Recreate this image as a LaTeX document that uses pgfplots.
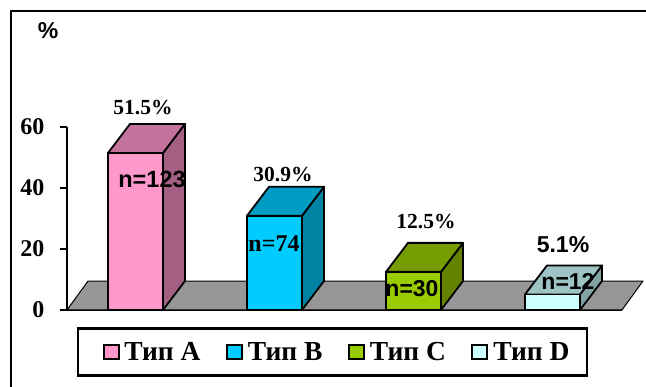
\documentclass[border=0pt]{standalone}
\usepackage{pgfplots}
\pgfplotsset{compat=1.18}
\usepackage{fontspec}
\setmainfont{Liberation Serif}
\newfontfamily\arialfont{Liberation Sans}
\definecolor{floorgray}{HTML}{969696}
\definecolor{fa}{HTML}{FF99CC}\definecolor{ta}{HTML}{C4749C}\definecolor{sa}{HTML}{A36082}
\definecolor{fb}{HTML}{00CCFF}\definecolor{tb}{HTML}{009CC4}\definecolor{sb}{HTML}{0082A3}
\definecolor{fc}{HTML}{99CC00}\definecolor{tc}{HTML}{759C00}\definecolor{sc}{HTML}{628200}
\definecolor{fd}{HTML}{CCFFFF}\definecolor{td}{HTML}{9CC4C4}\definecolor{sd}{HTML}{82A3A3}
\pgfplotsset{
  face/.style={draw=black,line width=1.8pt,forget plot,mark=none,line join=round},
  front/.style={ybar,bar width=55pt,bar shift=0pt,draw=black,line width=1.8pt,
    legend image code/.code={\draw[##1,line width=2pt] (0pt,-7pt) rectangle (15pt,7pt);\path (18pt,0pt);}},
  frontfirst/.style={front,
    legend image code/.code={\path (-9pt,0pt);\draw[##1,line width=2pt] (0pt,-7pt) rectangle (15pt,7pt);\path (18pt,0pt);}},
}
% label placed by horizontal position and its height in the plot's drawing units
\newcommand{\lab}[4][\rmfamily]{\node[inner sep=0pt,anchor=center,font=#1] at (axis cs:#2,{(310-#3)/3.05}) {#4};}
\begin{document}
\begin{tikzpicture}
\useasboundingbox (-67pt,-77pt) rectangle (579pt,310pt);
\begin{axis}[
  name=ax, at={(0pt,0pt)}, anchor=origin,
  x=1pt, y=3.05pt, xmin=67, xmax=622, ymin=0, ymax=60,
  scale only axis, clip=false,
  axis y line*=left, axis x line*=bottom,
  axis line style={line width=1.8pt,-},
  xtick=\empty, ytick={0,20,40,60},
  tick align=outside, major tick length=7pt,
  ytick style={line width=1.8pt,black},
  y tick label style={/pgf/number format/assume math mode=true,
    font=\fontsize{24}{26}\selectfont\bfseries, xshift=-12pt},
  legend columns=4,
  legend style={at={(0.4785,-0.2295)},anchor=center,draw=black,line width=2.4pt,
    font=\fontsize{27.5}{30}\selectfont\bfseries,inner xsep=15.5pt,inner ysep=11.5pt,
    /tikz/every even column/.style={column sep=23.5pt}},
]
% floor
\addplot[face,fill=floorgray,line width=1pt] coordinates {(67,0) (88,9.5) (643,9.5) (622,0)} --cycle;

% Type A
\addplot[face,fill=sa] coordinates {(163,0) (185,9.5) (185,61) (163,51.5)} --cycle;
\addplot[face,fill=ta] coordinates {(108,51.5) (130,61) (185,61) (163,51.5)} --cycle;
\addplot[frontfirst,fill=fa] coordinates {(135.5,51.5)};
\addlegendentry{Тип A}
% Type B
\addplot[face,fill=sb] coordinates {(302,0) (324,9.5) (324,40.4) (302,30.9)} --cycle;
\addplot[face,fill=tb] coordinates {(247,30.9) (269,40.4) (324,40.4) (302,30.9)} --cycle;
\addplot[front,fill=fb] coordinates {(274.5,30.9)};
\addlegendentry{Тип B}
% Type C
\addplot[face,fill=sc] coordinates {(441,0) (463,9.5) (463,22) (441,12.5)} --cycle;
\addplot[face,fill=tc] coordinates {(386,12.5) (408,22) (463,22) (441,12.5)} --cycle;
\addplot[front,fill=fc] coordinates {(413.5,12.5)};
\addlegendentry{Тип C}
% Type D
\addplot[face,fill=sd] coordinates {(580,0) (602,9.5) (602,14.6) (580,5.1)} --cycle;
\addplot[face,fill=td] coordinates {(525,5.1) (547,14.6) (602,14.6) (580,5.1)} --cycle;
\addplot[front,fill=fd] coordinates {(552.5,5.1)};
\addlegendentry{Тип D}

% outer frame, open to the right and below
\draw[line width=2.4pt] (axis cs:11,-25.3) -- (axis cs:11,98) -- (axis cs:646,98);

\lab[\arialfont\bfseries\fontsize{23}{26}\selectfont]{48}{31}{\%}
\lab[\rmfamily\bfseries\fontsize{21.5}{24}\selectfont]{143}{108}{51.5\%}
\lab[\rmfamily\bfseries\fontsize{21.5}{24}\selectfont]{283}{175}{30.9\%}
\lab[\rmfamily\bfseries\fontsize{21.5}{24}\selectfont]{426}{222}{12.5\%}
\lab[\arialfont\bfseries\fontsize{23}{26}\selectfont]{563}{245}{5.1\%}
\lab[\arialfont\bfseries\fontsize{23.5}{26}\selectfont]{152}{179}{n=123}
\lab[\rmfamily\bfseries\fontsize{24}{26}\selectfont]{274}{244}{n=74}
\lab[\arialfont\bfseries\fontsize{23}{26}\selectfont]{412}{289}{n=30}
\lab[\arialfont\bfseries\fontsize{23}{26}\selectfont]{568}{281}{n=12}
\end{axis}
\end{tikzpicture}
\end{document}
